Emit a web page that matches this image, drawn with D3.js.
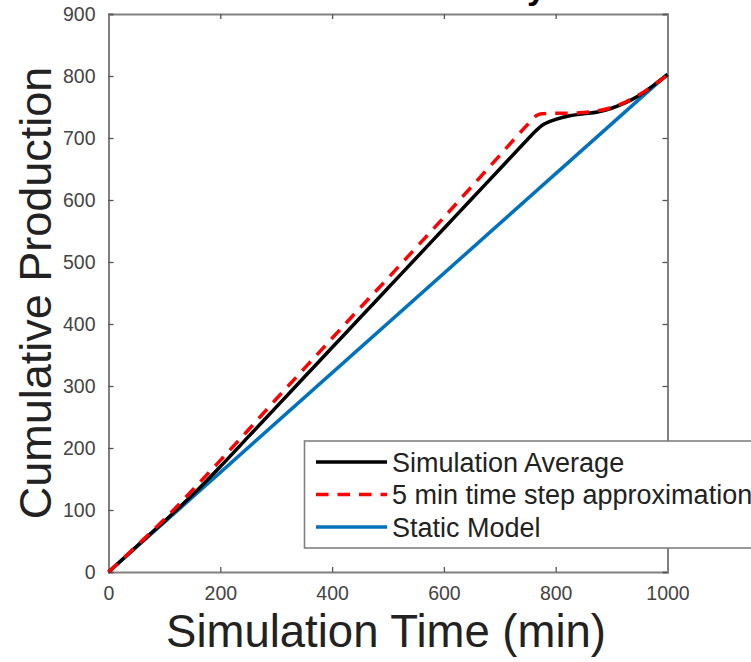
<!DOCTYPE html>
<html>
<head>
<meta charset="utf-8">
<script src="https://cdn.jsdelivr.net/npm/d3@7"></script>
<style>
  html, body { margin: 0; padding: 0; background: #fff; }
  svg { display: block; }
</style>
</head>
<body>
<svg id="chart" width="751" height="662"></svg>
<script>
// ---- data ----
const timeMin = [0,50,100,150,200,250,300,350,400,450,500,550,600,650,700,750,765,775,800,825,850,875,900,925,950,975,1000];
const simAverage = [0,41,82,124,170,218,266,314,362,410,458,506,554,602,650,698,712,720,730,736,739,742,748,757,769,785,802];
const approx5min = [0,42,85,132,180,229,279,328,377,426,474,523,572,622,672,722,736,739,740,740,741,744,749,758,770,785,802];
const staticTime = [0,1000];
const staticModel = [0,803];
const xTicks = [0,200,400,600,800,1000];
const yTicks = [0,100,200,300,400,500,600,700,800,900];
const seriesNames = ["Simulation Average","5 min time step approximation","Static Model"];

// ---- layout ----
const svg = d3.select("#chart");
const L = 108.5, R = 667.5, T = 14, B = 572;
const x = d3.scaleLinear().domain([0,1000]).range([L,R]);
const y = d3.scaleLinear().domain([0,900]).range([B,T]);
const axisColor = "#808080";
const font = "'Liberation Sans', Arial, Helvetica, sans-serif";

// title fragment (cut off at top, as in the reference)
svg.append("text").attr("x", 546).attr("y", -1).attr("text-anchor","end")
  .attr("font-family", font).attr("font-weight","bold").attr("font-size", 34)
  .attr("fill","#000").text("Accuracy");

// axes (box)
const gx = svg.append("g").attr("transform",`translate(0,${B})`)
  .call(d3.axisBottom(x).tickValues(xTicks).tickSize(-5).tickPadding(14).tickFormat(d3.format("d")));
const gxt = svg.append("g").attr("transform",`translate(0,${T})`)
  .call(d3.axisTop(x).tickValues(xTicks).tickSize(-5).tickFormat(""));
const gy = svg.append("g").attr("transform",`translate(${L},0)`)
  .call(d3.axisLeft(y).tickValues(yTicks).tickSize(-5).tickPadding(13).tickFormat(d3.format("d")));
const gyr = svg.append("g").attr("transform",`translate(${R},0)`)
  .call(d3.axisRight(y).tickValues(yTicks).tickSize(-5).tickFormat(""));
[gx,gxt,gy,gyr].forEach(g => {
  g.select(".domain").attr("stroke", axisColor).attr("stroke-width", 2);
  g.selectAll(".tick line").attr("stroke", "#555").attr("stroke-width", 1.3);
  g.selectAll(".tick text").attr("fill","#444").attr("font-family", font).attr("font-size", 19.5);
});

// lines
const line = d3.line().x(d=>x(d[0])).y(d=>y(d[1])).curve(d3.curveMonotoneX);
const plot = svg.append("g");
plot.append("path").datum(staticTime.map((t,i)=>[t,staticModel[i]]))
  .attr("d", line).attr("fill","none").attr("stroke","#0072BD").attr("stroke-width",3.5);
plot.append("path").datum(timeMin.map((t,i)=>[t,simAverage[i]]))
  .attr("d", line).attr("fill","none").attr("stroke","#000").attr("stroke-width",3.5);
plot.append("path").datum(timeMin.map((t,i)=>[t,approx5min[i]]))
  .attr("d", line).attr("fill","none").attr("stroke","#FF0000").attr("stroke-width",3.5)
  .attr("stroke-dasharray","12.5,9");

// axis titles
svg.append("text").attr("x", (L+R)/2 - 2).attr("y", 647).attr("text-anchor","middle")
  .attr("font-family", font).attr("font-size", 45.5).attr("fill","#222").text("Simulation Time (min)");
svg.append("text").attr("transform",`translate(51,${(T+B)/2}) rotate(-90)`).attr("text-anchor","middle")
  .attr("font-family", font).attr("font-size", 45).attr("fill","#222").text("Cumulative Production");

// legend
const lg = svg.append("g");
lg.append("rect").attr("x",304.5).attr("y",441).attr("width",470).attr("height",107)
  .attr("fill","#fff").attr("stroke",axisColor).attr("stroke-width",1.6);
const legColors = ["#000","#FF0000","#0072BD"];
const legDash = [null,"12.5,9",null];
seriesNames.forEach((name,i) => {
  const cy = 462 + i*32.5;
  lg.append("line").attr("x1",316).attr("x2",387).attr("y1",cy).attr("y2",cy)
    .attr("stroke",legColors[i]).attr("stroke-width",3.5).attr("stroke-dasharray",legDash[i]);
  lg.append("text").attr("x",392).attr("y",cy+9.5).attr("font-family",font).attr("font-size",27)
    .attr("fill","#222").text(name);
});
</script>
</body>
</html>
